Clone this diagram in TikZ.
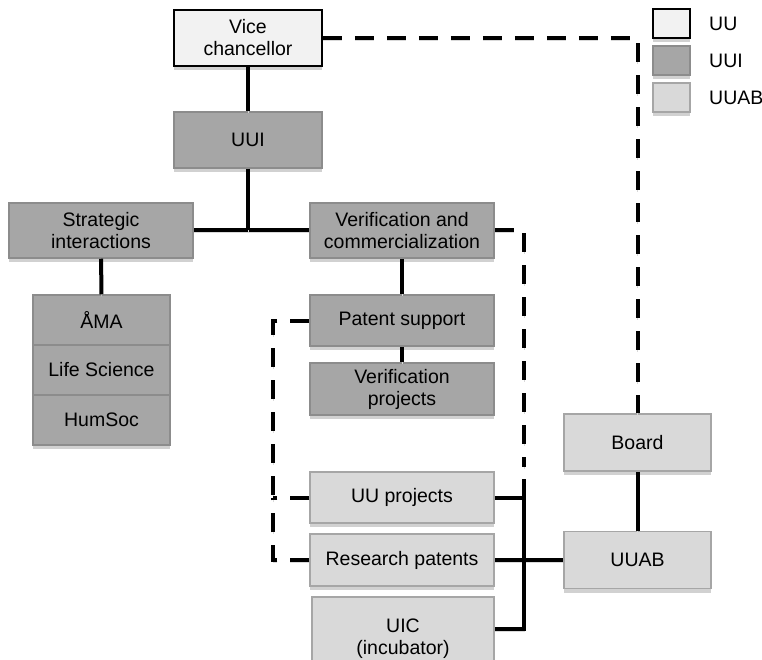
\documentclass[tikz,border=0pt]{standalone}
\usepackage{fontspec}
\setmainfont{Liberation Sans}
\usetikzlibrary{%
  shadows,
  calc%
}
\tikzset{
  unit/.style={
    draw=#1,
    line width=1.5pt,
    align=center,
    inner sep=2pt,
    font=\fontsize{19.5}{22}\selectfont,
    drop shadow={
      shadow xshift=0pt,
      shadow yshift=-4pt,
      fill=black!18,
      opacity=1
    }
  },
  uubox/.style={unit=black,fill=black!5},
  uuibox/.style={unit=black!45,fill=black!35},
  uuabbox/.style={unit=black!35,fill=black!15},
  link/.style={
    line width=4pt,
    preaction={draw=black!15,transform canvas={yshift=-2pt}}
  },
  loose/.style={
    line width=4pt,
    dash pattern=on 19pt off 13pt,
    preaction={draw=black!15,dash pattern=on 19pt off 13pt,transform canvas={yshift=-2pt}}
  },
  keytext/.style={
    anchor=west,
    inner sep=0pt,
    font=\fontsize{19.5}{22}\selectfont
  }
}

\begin{document}
\begin{tikzpicture}[x=1pt,y=-1pt]
\useasboundingbox (0,0) rectangle (762,660);
\clip (0,0) rectangle (762,660);
% university side
\node[uubox,minimum width=148pt,minimum height=56pt] (vc) at (248,38) {Vice\\chancellor};
\node[uuibox,minimum width=148pt,minimum height=56pt] (uui) at (248,140) {UUI};
\node[uuibox,minimum width=184pt,minimum height=55pt] (strat) at (101,230.5) {Strategic\\interactions};
\node[uuibox,minimum width=184pt,minimum height=55pt] (ver) at (402,230.5) {Verification and\\commercialization};
\foreach \y/\name/\txt in {%
  320/ama/ÅMA,
  370/life/Life Science,
  420/hum/HumSoc%
} {
  \node[uuibox,minimum width=137pt,minimum height=50pt] (\name) at (101.5,\y) {\txt};
}
\node[uuibox,minimum width=184pt,minimum height=51pt] (patent) at (402,320.5) {Patent support};
\node[uuibox,minimum width=184pt,minimum height=52pt] (verproj) at (402,389) {Verification\\projects};
% holding side
\node[uuabbox,minimum width=184pt,minimum height=51pt] (uup) at (402,497.5) {UU projects};
\node[uuabbox,minimum width=184pt,minimum height=52pt] (rp) at (402,560) {Research patents};
\node[uuabbox,minimum width=182pt,minimum height=84pt] (uic) at (403,639) {UIC\\(incubator)};
\node[uuabbox,minimum width=147pt,minimum height=57pt] (board) at (637.5,442.5) {Board};
\node[uuabbox,minimum width=147pt,minimum height=57pt] (uuab) at (637.5,560) {UUAB};
% key
\foreach \y/\kind/\name in {%
  23.5/uubox/UU,
  60.5/uuibox/UUI,
  97.5/uuabbox/UUAB%
} {
  \node[\kind,minimum width=37pt,minimum height=29pt] (key\name) at (671.5,\y) {};
  \node[keytext] (label\name) at (709,\y) {\name};
}
% solid lines
\draw[link] (vc) -- (uui);
\draw[link] (strat) -- (ver);
\draw[link] (uui) -- (uui |- strat);
\draw[link] (strat) -- (ama);
\draw[link] (ver) -- (patent);
\draw[link] (patent) -- (verproj);
\draw[link] (board) -- (uuab);
\draw[link] (rp) -- (uuab);
\coordinate (hub) at (524,479);
\coordinate (hubfoot) at (524,629);
\draw[link] (uup.east) -- (uup.east -| hub);
\draw[link] (hub) -- (hubfoot) -- (hubfoot -| uic.east);
% dashed lines
\coordinate (bend) at (273,321);
\draw[loose] (vc.east) -| (board.north);
\draw[loose] (ver.east) -| ($(hub)+(0,-12)$);
\draw[loose] (patent.west) -- (patent.west -| bend) -- (uup.west -| bend);
\draw[loose] (rp.west) -- (rp.west -| bend) -- (uup.west -| bend);
\draw[loose] (uup.west) -- (uup.west -| bend);
\end{tikzpicture}
\end{document}
